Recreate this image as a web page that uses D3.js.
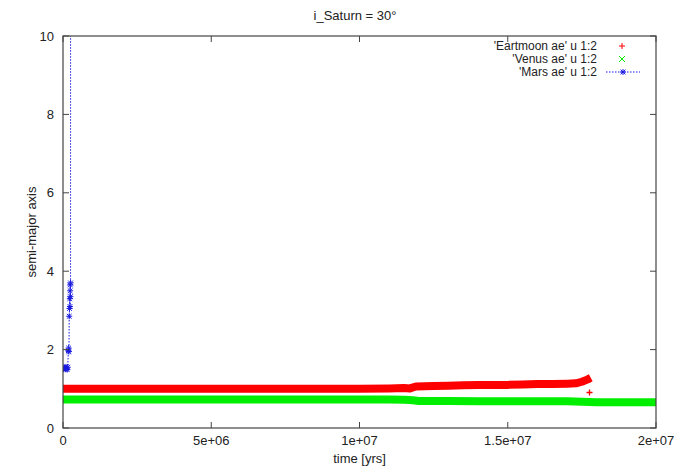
<!DOCTYPE html>
<html>
<head>
<meta charset="utf-8">
<script src="https://cdn.jsdelivr.net/npm/d3@7"></script>
<style>
  html, body { margin: 0; padding: 0; background: #fff; }
  svg { display: block; }
  text { font-family: "Liberation Sans", Arial, Helvetica, sans-serif; fill: #222; }
</style>
</head>
<body>
<script>
// Semi-major axis evolution (AU) versus time (years) with Saturn inclined by 30 degrees.
const titleText = "i_Saturn = 30°";
const xLabel = "time [yrs]";
const yLabel = "semi-major axis";
const xTicks = [0, 5e6, 1e7, 1.5e7, 2e7];
const xTickLabels = ["0", "5e+06", "1e+07", "1.5e+07", "2e+07"];
const yTicks = [0, 2, 4, 6, 8, 10];
const seriesNames = ["'Eartmoon ae' u 1:2", "'Venus ae' u 1:2", "'Mars ae' u 1:2"];

// Earth-Moon barycentre
const earthTime = [0, 1e6, 2e6, 3e6, 4e6, 5e6, 6e6, 7e6, 8e6, 9e6, 1e7, 1.1e7, 1.15e7, 1.17e7,
  1.19e7, 1.25e7, 1.3e7, 1.35e7, 1.4e7, 1.45e7, 1.5e7, 1.55e7, 1.6e7, 1.65e7, 1.7e7, 1.73e7,
  1.75e7, 1.77e7, 1.78e7];
const earthA = [1.0, 1.0, 1.0, 1.0, 1.0, 1.0, 1.0, 1.0, 1.0, 1.0, 1.0, 1.01, 1.02, 1.01,
  1.06, 1.07, 1.08, 1.09, 1.1, 1.1, 1.1, 1.11, 1.12, 1.12, 1.13, 1.14,
  1.18, 1.24, 1.28];
// isolated sample below the band near the end of the Earth-Moon record
const earthOutTime = [1.775e7];
const earthOutA = [0.93];

// Venus
const venusTime = [0, 1e6, 2e6, 3e6, 4e6, 5e6, 6e6, 7e6, 8e6, 9e6, 1e7, 1.1e7, 1.15e7, 1.18e7,
  1.2e7, 1.3e7, 1.4e7, 1.5e7, 1.6e7, 1.7e7, 1.75e7, 1.8e7, 1.9e7, 2e7];
const venusA = [0.73, 0.73, 0.73, 0.73, 0.73, 0.73, 0.73, 0.73, 0.73, 0.73, 0.73, 0.73, 0.72, 0.71,
  0.69, 0.69, 0.68, 0.68, 0.68, 0.68, 0.67, 0.66, 0.66, 0.66];

// Mars (ejected shortly after 2.5e5 yrs)
const marsTime = [0, 2e4, 4e4, 6e4, 8e4, 1e5, 1.2e5, 1.4e5, 1.6e5, 1.8e5, 1.9e5, 2.0e5,
  2.1e5, 2.2e5, 2.3e5, 2.35e5, 2.4e5, 2.45e5, 2.5e5, 2.55e5, 2.6e5];
const marsA = [1.52, 1.5, 1.55, 1.53, 1.5, 1.56, 1.52, 1.49, 1.55, 1.97, 2.04, 1.95,
  2.85, 3.05, 3.3, 3.1, 3.5, 3.65, 3.35, 3.7, 40];

const W = 678, H = 472;
const margin = { left: 63, right: 22, top: 36, bottom: 44 };

const svg = d3.select("body").append("svg").attr("width", W).attr("height", H);

const x = d3.scaleLinear().domain([0, 2e7]).range([margin.left, W - margin.right]);
const y = d3.scaleLinear().domain([0, 10]).range([H - margin.bottom, margin.top]);

svg.append("defs").append("clipPath").attr("id", "plotClip")
  .append("rect")
  .attr("x", x(0)).attr("y", y(10))
  .attr("width", x(2e7) - x(0)).attr("height", y(0) - y(10));

const plot = svg.append("g").attr("clip-path", "url(#plotClip)");

const zip = (t, a) => t.map((v, i) => [v, a[i]]);
const line = d3.line().x(d => x(d[0])).y(d => y(d[1])).curve(d3.curveLinear);

const red = "#ff0000", green = "#00ee00", blue = "#1a1ae0";

// Dense point clouds render as solid bands
plot.append("path").datum(zip(earthTime, earthA))
  .attr("d", line).attr("fill", "none").attr("stroke", red)
  .attr("stroke-width", 8).attr("stroke-linejoin", "round");
plot.append("path").datum(zip(venusTime, venusA))
  .attr("d", line).attr("fill", "none").attr("stroke", green)
  .attr("stroke-width", 8).attr("stroke-linejoin", "round");

// plus marker
function plus(g, cx, cy, s, color, w) {
  g.append("path")
    .attr("d", `M${cx - s},${cy}H${cx + s}M${cx},${cy - s}V${cy + s}`)
    .attr("stroke", color).attr("stroke-width", w || 1).attr("fill", "none");
}
function cross(g, cx, cy, s, color, w) {
  g.append("path")
    .attr("d", `M${cx - s},${cy - s}L${cx + s},${cy + s}M${cx - s},${cy + s}L${cx + s},${cy - s}`)
    .attr("stroke", color).attr("stroke-width", w || 1).attr("fill", "none");
}
function star(g, cx, cy, s, color) {
  plus(g, cx, cy, s, color);
  cross(g, cx, cy, s * 0.8, color);
}

zip(earthOutTime, earthOutA).forEach(d => plus(plot, Math.round(x(d[0])) + 0.5, Math.round(y(d[1])) + 0.5, 3, red, 1.3));

// Mars: dotted line with star markers
plot.append("path").datum(zip(marsTime, marsA))
  .attr("d", line).attr("fill", "none").attr("stroke", blue)
  .attr("stroke-width", 1).attr("stroke-dasharray", "1.5,1.5");
zip(marsTime, marsA).forEach(d => star(plot, x(d[0]), y(d[1]), 3, blue));

// Frame
const frameColor = "#444";
svg.append("rect")
  .attr("x", x(0)).attr("y", y(10))
  .attr("width", x(2e7) - x(0)).attr("height", y(0) - y(10))
  .attr("fill", "none").attr("stroke", frameColor).attr("stroke-width", 1.2);

// Ticks (inward, mirrored on opposite sides)
const tickLen = 6;
const ticks = svg.append("g").attr("stroke", frameColor).attr("stroke-width", 1);
xTicks.forEach(t => {
  ticks.append("line").attr("x1", x(t)).attr("x2", x(t)).attr("y1", y(0)).attr("y2", y(0) - tickLen);
  ticks.append("line").attr("x1", x(t)).attr("x2", x(t)).attr("y1", y(10)).attr("y2", y(10) + tickLen);
});
yTicks.forEach(v => {
  ticks.append("line").attr("x1", x(0)).attr("x2", x(0) + tickLen).attr("y1", y(v)).attr("y2", y(v));
  ticks.append("line").attr("x1", x(2e7)).attr("x2", x(2e7) - tickLen).attr("y1", y(v)).attr("y2", y(v));
});

// Tick labels
const fs = 13;
svg.append("g").selectAll("text").data(xTicks).join("text")
  .attr("x", d => x(d)).attr("y", y(0) + 17)
  .attr("text-anchor", "middle").attr("font-size", fs)
  .text((d, i) => xTickLabels[i]);
svg.append("g").selectAll("text").data(yTicks).join("text")
  .attr("x", x(0) - 9).attr("y", d => y(d) + 4.5)
  .attr("text-anchor", "end").attr("font-size", fs)
  .text(d => d);

// Axis titles and chart title
svg.append("text").attr("x", (x(0) + x(2e7)) / 2).attr("y", 463)
  .attr("text-anchor", "middle").attr("font-size", fs).text(xLabel);
svg.append("text")
  .attr("transform", `translate(${36},${(y(0) + y(10)) / 2}) rotate(-90)`)
  .attr("text-anchor", "middle").attr("font-size", fs).text(yLabel);
svg.append("text").attr("x", 355).attr("y", 20)
  .attr("text-anchor", "middle").attr("font-size", fs).text(titleText);

// Key
const keyX = 597, keyY0 = 46, keyDy = 13, keyFs = 12;
const key = svg.append("g");
seriesNames.forEach((name, i) => {
  key.append("text").attr("x", keyX).attr("y", keyY0 + i * keyDy + 4.2)
    .attr("text-anchor", "end").attr("font-size", keyFs).text(name);
});
plus(key, 622, keyY0, 3, red);
cross(key, 622, keyY0 + keyDy, 3, green);
key.append("line").attr("x1", 606).attr("x2", 640)
  .attr("y1", keyY0 + 2 * keyDy).attr("y2", keyY0 + 2 * keyDy)
  .attr("stroke", blue).attr("stroke-width", 1).attr("stroke-dasharray", "1.5,1.5");
star(key, 623, keyY0 + 2 * keyDy, 3, blue);
</script>
</body>
</html>
